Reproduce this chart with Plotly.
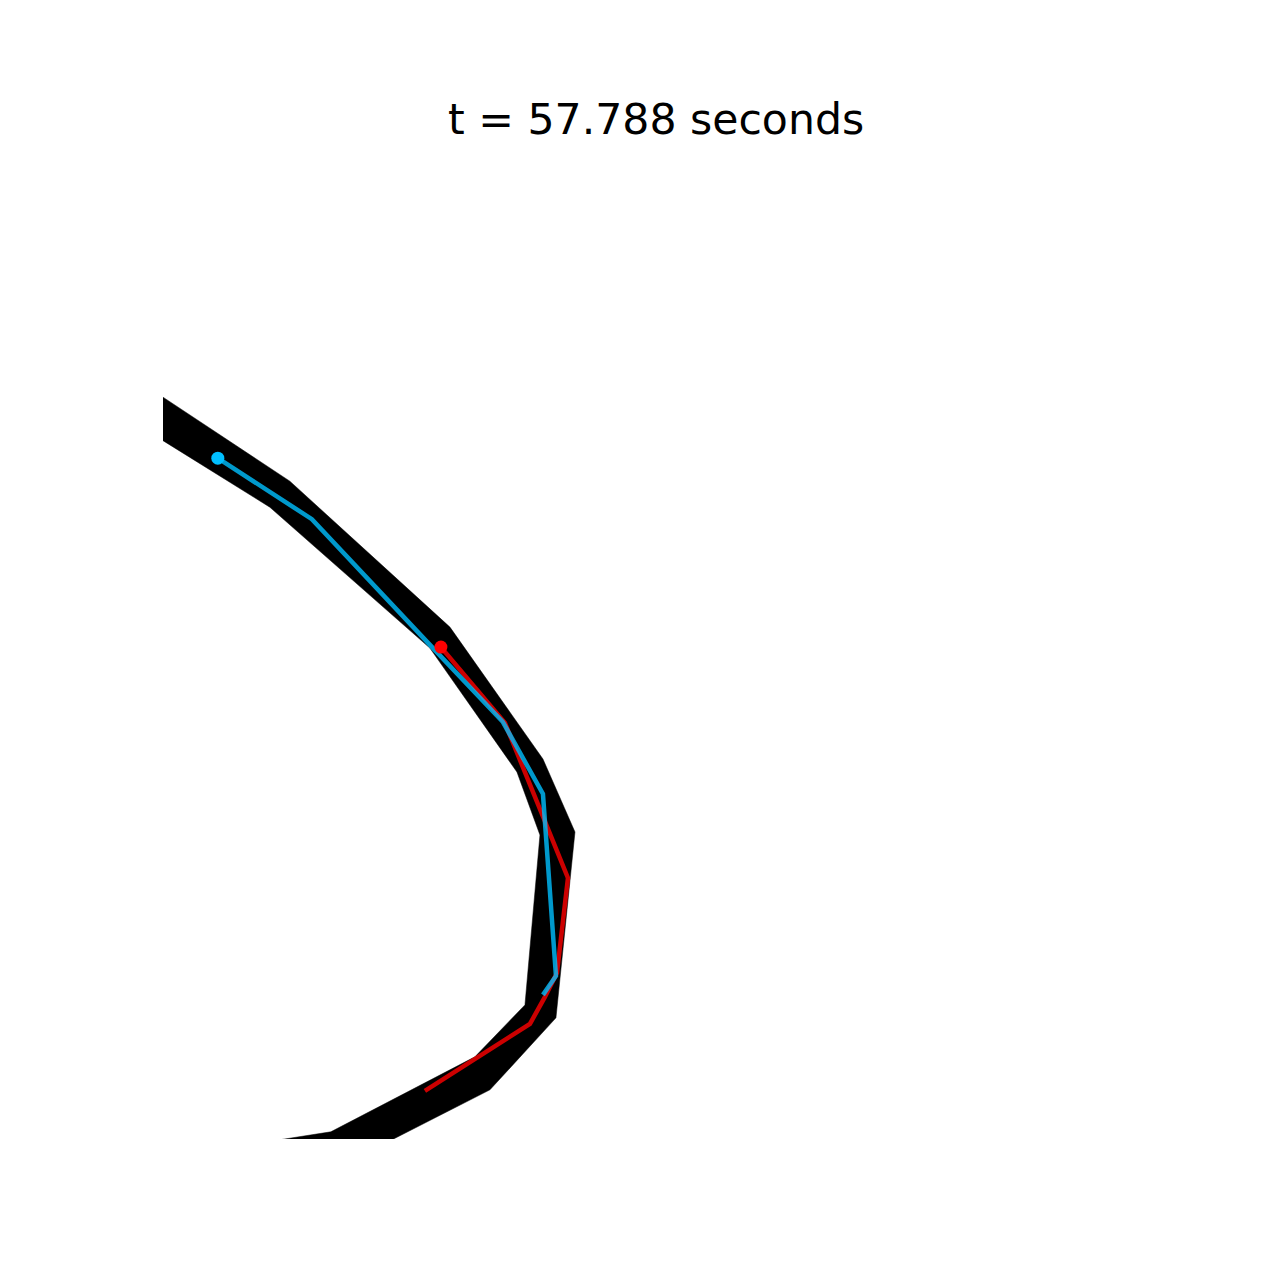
import plotly.graph_objects as go

# Data in plot units (x to the right, y upward), range 0..985.6
# Track boundaries (outer and inner edge), extending beyond the view
outer_x = [-63.2, 126.8, 286.8, 379.8, 411.8, 392.8, 326.8, 232.8, 136.8]
outer_y = [784.2, 658.2, 512.2, 380.2, 307.2, 121.2, 49.2, 1.2, -47.8]
inner_x = [-63.2, 106.8, 266.8, 353.8, 376.8, 361.8, 311.8, 167.8, 36.8]
inner_y = [738.2, 632.2, 491.2, 367.2, 304.2, 134.2, 82.2, 7.2, -13.3]

# Red trajectory
red_x = [277.8, 341.8, 404.8, 393.8, 381.8, 366.8, 261.8]
red_y = [492.2, 416.2, 261.2, 166.2, 142.2, 115.2, 48.2]

# Blue trajectory
blue_x = [54.8, 148.8, 270.8, 339.8, 379.8, 392.8, 379.8]
blue_y = [681.2, 620.2, 490.2, 417.2, 345.2, 163.2, 144.2]

title_text = "t = 57.788 seconds"

track_x = outer_x + inner_x[::-1] + [outer_x[0]]
track_y = outer_y + inner_y[::-1] + [outer_y[0]]

fig = go.Figure()
fig.add_trace(go.Scatter(x=track_x, y=track_y, mode="lines", fill="toself",
                         fillcolor="black", line=dict(color="black", width=0.5),
                         hoverinfo="skip", showlegend=False))
fig.add_trace(go.Scatter(x=red_x, y=red_y, mode="lines",
                         line=dict(color="rgba(255,0,0,0.8)", width=4.5),
                         showlegend=False))
fig.add_trace(go.Scatter(x=blue_x, y=blue_y, mode="lines",
                         line=dict(color="rgba(0,191,255,0.8)", width=4.5),
                         showlegend=False))
fig.add_trace(go.Scatter(x=[red_x[0]], y=[red_y[0]], mode="markers",
                         marker=dict(color="#ff0000", size=13, line=dict(width=0)),
                         showlegend=False))
fig.add_trace(go.Scatter(x=[blue_x[0]], y=[blue_y[0]], mode="markers",
                         marker=dict(color="#00bfff", size=13, line=dict(width=0)),
                         showlegend=False))

fig.update_layout(
    width=1280, height=1280,
    margin=dict(l=163.2, r=131.2, t=153.6, b=140.8, pad=0),
    paper_bgcolor="white", plot_bgcolor="white",
    xaxis=dict(range=[0, 985.6], visible=False, showgrid=False, zeroline=False, fixedrange=True),
    yaxis=dict(range=[0, 985.6], visible=False, showgrid=False, zeroline=False, fixedrange=True),
    annotations=[dict(text=title_text, xref="paper", yref="paper", x=0.5, y=1.0,
                      xanchor="center", yanchor="bottom", yshift=8, showarrow=False,
                      font=dict(family="DejaVu Sans", size=42.6, color="black"))],
    showlegend=False,
)

fig.write_html("out.html")
